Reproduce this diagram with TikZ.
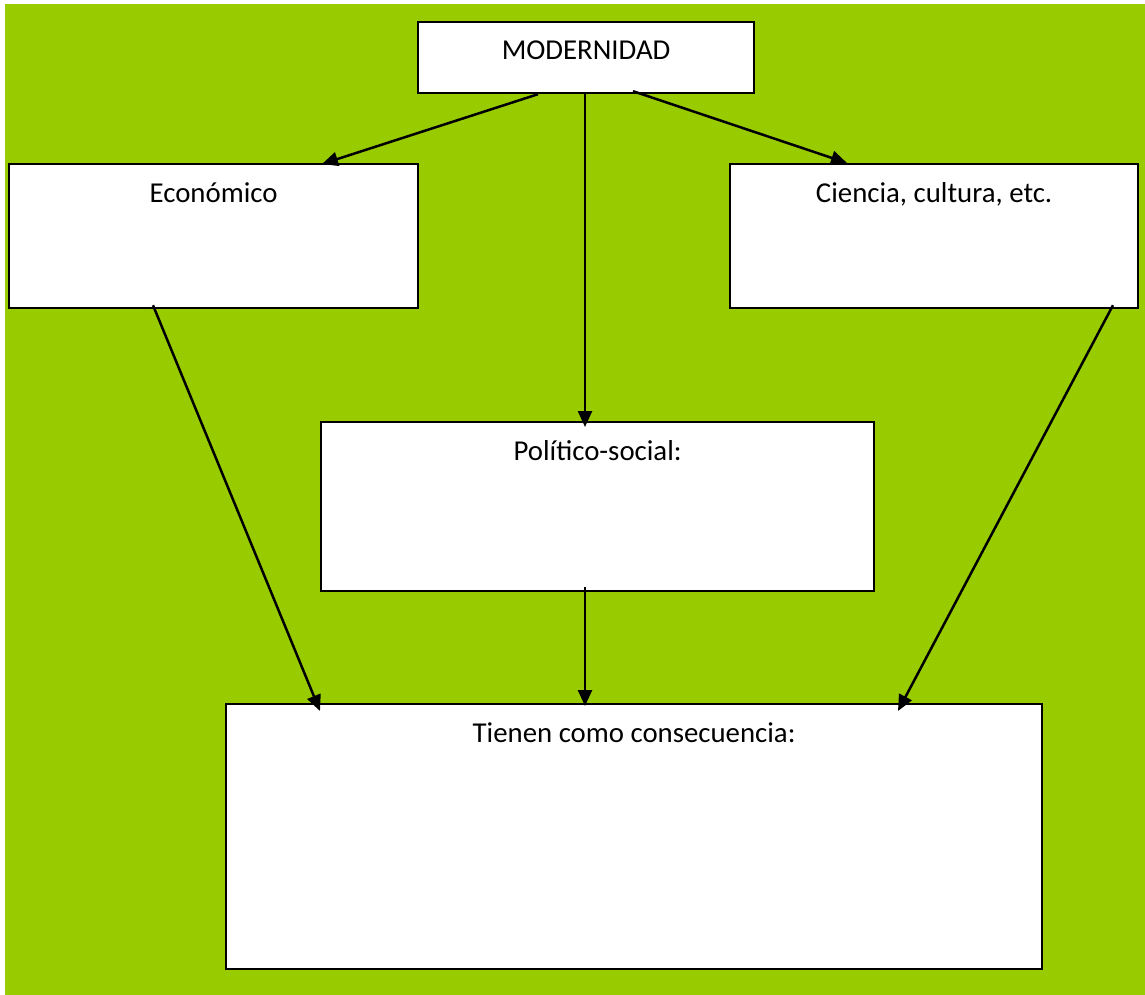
\documentclass[tikz,border=0pt]{standalone}
\usepackage{fontspec}
\setmainfont{Carlito}
\usetikzlibrary{arrows.meta,calc}
\definecolor{bggreen}{HTML}{99CC00}
\begin{document}
\begin{tikzpicture}[x=1pt,y=-1pt,
 box/.style={draw=black,line width=2.2pt,fill=white,anchor=north west,inner sep=0pt,rectangle},
 lbl/.style={anchor=base,font=\fontsize{28.8}{34}\selectfont,inner sep=0pt,text=black},
 conn/.style={line width=2.5pt,-{Triangle[length=16pt,width=14pt]}}]
\useasboundingbox (0,0) rectangle (1145,995);
\fill[bggreen] (5,4) rectangle (1145,995);
\node[box,minimum width=336pt,minimum height=71pt] (mod) at (417,21) {};
\node[box,minimum width=409pt,minimum height=144pt] (eco) at (8,163) {};
\node[box,minimum width=408pt,minimum height=144pt] (cie) at (729,163) {};
\node[box,minimum width=553pt,minimum height=169pt] (pol) at (320,421) {};
\node[box,minimum width=816pt,minimum height=265pt] (ten) at (225,703) {};
\node[lbl] (modt) at ($(mod.north)+(0,39)$) {MODERNIDAD};
\node[lbl] (ecot) at ($(eco.north)+(0,39)$) {Económico};
\node[lbl] (ciet) at ($(cie.north)+(0,39)$) {Ciencia, cultura, etc.};
\node[lbl] (polt) at ($(pol.north)+(0,39)$) {Político-social:};
\node[lbl] (tent) at ($(ten.north)+(0,39)$) {Tienen como consecuencia:};
\draw[conn] ($(mod.south west)+(121,0)$) -- ($(eco.north west)+(314,1)$);
\draw[conn] ($(mod.south west)+(168,0)$) -- ($(pol.north west)+(265,6)$);
\draw[conn] ($(mod.south west)+(216,-3)$) -- ($(cie.north west)+(118,0)$);
\draw[conn] ($(eco.south west)+(145,-4)$) -- ($(ten.north west)+(95,8)$);
\draw[conn] ($(cie.south west)+(384,-4)$) -- ($(ten.north west)+(673,8)$);
\draw[conn] ($(pol.south west)+(265,-5)$) -- ($(ten.north west)+(360,3)$);
\end{tikzpicture}
\end{document}
